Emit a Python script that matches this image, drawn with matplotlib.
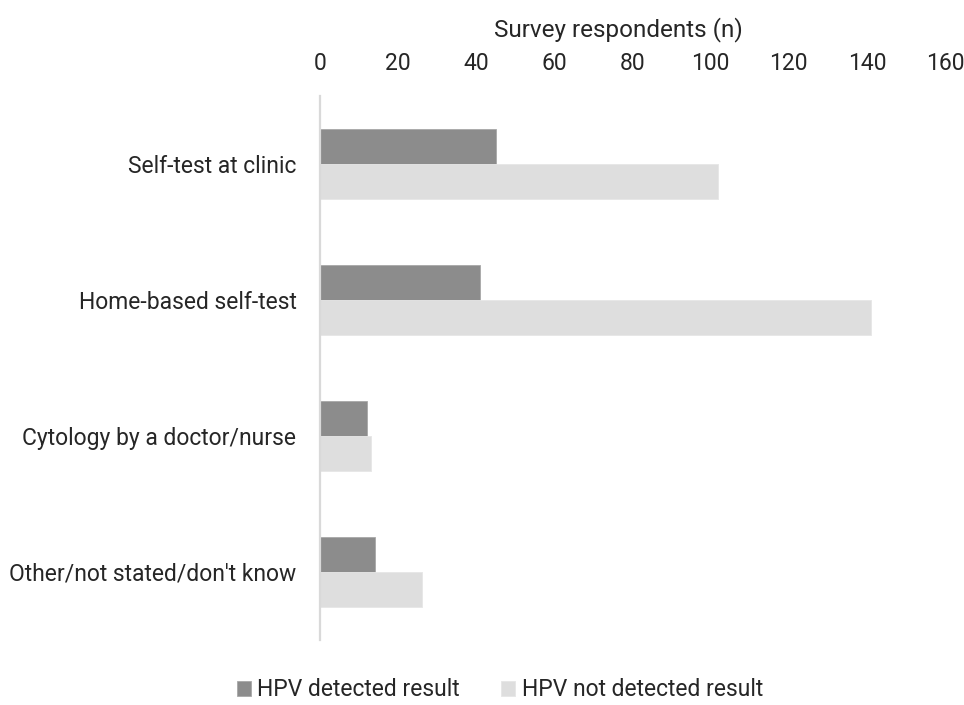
import matplotlib
matplotlib.use("Agg")
import matplotlib.pyplot as plt
import numpy as np

plt.rcParams['font.family'] = ['Roboto', 'DejaVu Sans']

categories = ["Self-test at clinic", "Home-based self-test",
              "Cytology by a doctor/nurse", "Other/not stated/don't know"]
hpv_detected = [45, 41, 12, 14]
hpv_not_detected = [102, 141, 13, 26]
series_labels = ["HPV detected result", "HPV not detected result"]
x_ticks = [0, 20, 40, 60, 80, 100, 120, 140, 160]

text_color = "#262626"
dark = "#8c8c8c"
light = "#dedede"

fig = plt.figure(figsize=(9.64, 7.05), dpi=100)
ax = fig.add_axes([320 / 964, 1 - 640 / 705, (945 - 320) / 964, (640 - 96) / 705])

y = np.arange(len(categories))
h = 0.26
ax.barh(y - h / 2, hpv_detected, height=h, color=dark, edgecolor="#a8a8a8",
        linewidth=0.6, label=series_labels[0])
ax.barh(y + h / 2, hpv_not_detected, height=h, color=light, edgecolor="#e6e6e6",
        linewidth=0.6, label=series_labels[1])

ax.set_ylim(len(categories) - 0.5, -0.5)
ax.set_xlim(0, 160)
ax.set_yticks(y)
ax.set_yticklabels(categories, fontsize=16.5, color=text_color)
ax.set_xticks(x_ticks)
ax.set_xticklabels([str(t) for t in x_ticks], fontsize=16.5, color=text_color)
ax.xaxis.tick_top()
ax.tick_params(axis="both", length=0)
ax.tick_params(axis="y", pad=17)
ax.tick_params(axis="x", pad=15)

for side in ["top", "right", "bottom"]:
    ax.spines[side].set_visible(False)
ax.spines["left"].set_color("#d9d9d9")
ax.spines["left"].set_linewidth(1.6)

fig.text(618 / 964, 1 - 30 / 705, "Survey respondents (n)", ha="center", va="center",
         fontsize=17.5, color=text_color)

handles, labels = ax.get_legend_handles_labels()
leg = fig.legend(handles, labels, loc="center", bbox_to_anchor=(500 / 964, 1 - 690 / 705),
                 ncol=2, frameon=False, fontsize=16.5, handlelength=0.6, handleheight=0.6,
                 handletextpad=0.3, columnspacing=1.8)
for t in leg.get_texts():
    t.set_color(text_color)

fig.savefig("out.png", dpi=100, facecolor="white")
